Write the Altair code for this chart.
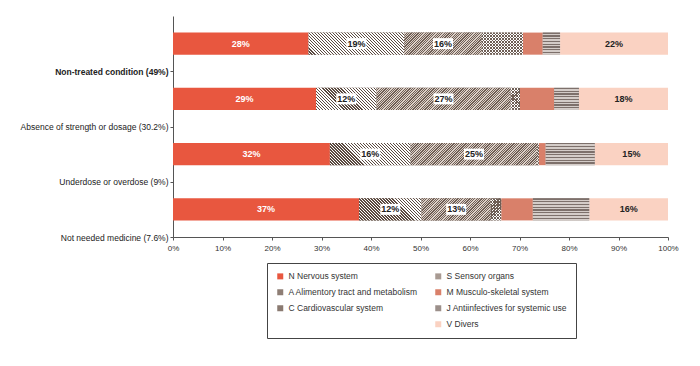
import altair as alt
import pandas as pd

rows = [
    "Non-treated condition (49%)",
    "Absence of strength or dosage (30.2%)",
    "Underdose or overdose (9%)",
    "Not needed medicine (7.6%)",
]
categories = [
    "N Nervous system",
    "A Alimentory tract and metabolism",
    "C Cardiovascular system",
    "S Sensory organs",
    "M Musculo-skeletal system",
    "J Antiinfectives for systemic use",
    "V Divers",
]
codes = ["N", "A", "C", "S", "M", "J", "V"]

n_vals = [27.4, 28.9, 31.7, 37.6]
a_vals = [19.3, 12.2, 16.3, 12.6]
c_vals = [15.7, 27.1, 25.6, 14.0]
s_vals = [8.3, 1.9, 0.3, 2.1]
m_vals = [4.0, 6.9, 1.4, 6.4]
j_vals = [3.5, 5.0, 9.9, 11.4]
v_vals = [21.8, 18.0, 14.8, 15.9]

n_labels = ["28%", "29%", "32%", "37%"]
a_labels = ["19%", "12%", "16%", "12%"]
c_labels = ["16%", "27%", "25%", "13%"]
v_labels = ["22%", "18%", "15%", "16%"]

series = [n_vals, a_vals, c_vals, s_vals, m_vals, j_vals, v_vals]
series_labels = [n_labels, a_labels, c_labels, None, None, None, v_labels]

records = []
for ci, (cat, vals) in enumerate(zip(categories, series)):
    for ri, r in enumerate(rows):
        lab = series_labels[ci][ri] if series_labels[ci] else ""
        records.append({"row": r, "cat": cat, "code": codes[ci], "order": ci,
                        "value": vals[ri], "label": lab})
df = pd.DataFrame(records)

FONT = "Liberation Sans"
PLOT_W = 495
PLOT_H = 221
STEP = PLOT_H / 4
BAR_H = 0.4 * STEP

# legend (solid approximations of the patterns); blank entry keeps V in the right column
legend_domain = [categories[0], categories[1], categories[2], " ",
                 categories[3], categories[4], categories[5], categories[6]]
legend_range = ["#e8573f", "#8e7e75", "#8a7a71", "#ffffff",
                "#a89a92", "#d9806a", "#9b8f8a", "#fad2c2"]

xscale = alt.Scale(domain=[0, 100], nice=False, zero=True)
yscale = alt.Scale(paddingInner=0.6, paddingOuter=0.3)
xaxis = alt.Axis(title=None, values=list(range(0, 101, 10)), labelExpr="datum.value + '%'",
                 grid=False, domainColor="#555", tickColor="#555", tickSize=3,
                 labelFontSize=8, labelColor="#333", labelPadding=4, labelFont=FONT,
                 labelFlush=False)
yaxis = alt.Axis(title=None, tickOffset=STEP / 2, domainColor="#555", tickColor="#555",
                 tickSize=3, labelFontSize=8.5, labelColor="#222", labelPadding=2,
                 labelLimit=400, labelFont=FONT,
                 labelFontWeight={"condition": {"test": "datum.value == '" + rows[0] + "'",
                                                "value": "bold"},
                                  "value": "normal"})


def X():
    return alt.X("x0:Q", scale=xscale, axis=xaxis)


def Y():
    return alt.Y("row:N", sort=rows, scale=yscale, axis=yaxis)


def stacked():
    return alt.Chart(df).transform_window(
        x1="sum(value)", groupby=["row"], sort=[alt.SortField("order", "ascending")],
        frame=[None, 0]).transform_calculate(x0="datum.x1 - datum.value")


def stripe_stops(n, dark, light, frac):
    stops = []
    for k in range(n):
        a = k / n
        b = (k + frac) / n
        c = (k + 1) / n
        stops += [{"offset": round(a, 5), "color": dark}, {"offset": round(b, 5), "color": dark},
                  {"offset": round(b, 5), "color": light}, {"offset": round(min(c, 1), 5), "color": light}]
    return stops


def diag(w, h, sx, dark, light, frac, direction):
    n = max(1, int(round((w + h) / sx)))
    k = (w + h) / (w * w + h * h)
    if direction == "back":
        x1, y1, x2, y2 = 0, 1, k * w, 1 - k * h
    else:
        x1, y1, x2, y2 = 0, 0, k * w, k * h
    return {"gradient": "linear", "x1": x1, "y1": y1, "x2": x2, "y2": y2,
            "stops": stripe_stops(n, dark, light, frac)}


base = stacked().mark_bar().encode(
    x=X(), x2="x1:Q", y=Y(),
    color=alt.Color("cat:N", scale=alt.Scale(domain=legend_domain, range=legend_range),
                    legend=alt.Legend(title=None, orient="none", legendX=94, legendY=247,
                                      columns=2, symbolType="square", symbolSize=36,
                                      symbolStrokeWidth=0, labelFontSize=8.5, labelFont=FONT,
                                      labelColor="#333", labelLimit=300, padding=9,
                                      rowPadding=7, columnPadding=16,
                                      strokeColor="#444")),
)

layers = [base]

pattern_specs = {
    "A": [dict(sx=3.0, dark="#5b4a40", light="#ffffff", frac=0.45, direction="back")],
    "C": [dict(sx=2.4, dark="#6e5e55", light="#dcd0c8", frac=0.5, direction="fwd")],
    "S": [dict(sx=3.0, dark="#6e5e55", light="#ffffff", frac=0.4, direction="back"),
          dict(sx=3.0, dark="#6e5e55", light="rgba(255,255,255,0)", frac=0.4, direction="fwd")],
}

for code, specs in pattern_specs.items():
    ci = codes.index(code)
    for ri, r in enumerate(rows):
        w = series[ci][ri] / 100.0 * PLOT_W
        for sp in specs:
            grad = diag(w, BAR_H, **sp)
            layers.append(
                stacked().transform_filter(
                    (alt.datum.code == code) & (alt.datum.row == r)
                ).mark_bar(fill=grad).encode(x=X(), x2="x1:Q", y=Y())
            )

# horizontal stripes for J (same bar height in every row)
j_grad = {"gradient": "linear", "x1": 0, "y1": 0, "x2": 0, "y2": 1,
          "stops": stripe_stops(8, "#7d706b", "#d4ccc8", 0.45)}
layers.append(
    stacked().transform_filter(alt.datum.code == "J").mark_bar(fill=j_grad).encode(
        x=X(), x2="x1:Q", y=Y())
)

lab_base = stacked().transform_filter(alt.datum.label != "").transform_calculate(
    xm="(datum.x0 + datum.x1) / 2")

boxes = lab_base.transform_filter(
    (alt.datum.code == "A") | (alt.datum.code == "C")
).mark_point(shape="M-1,-0.55H1V0.55H-1Z", size=400, filled=True, fill="white",
             opacity=1, strokeWidth=0).encode(
    x=alt.X("xm:Q", scale=xscale, axis=xaxis), y=Y())
layers.append(boxes)

texts = lab_base.mark_text(font=FONT, fontSize=9, fontWeight="bold").encode(
    x=alt.X("xm:Q", scale=xscale, axis=xaxis), y=Y(), text="label:N",
    color=alt.condition(alt.datum.code == "N", alt.value("white"), alt.value("#222")))
layers.append(texts)

chart = alt.layer(*layers).properties(
    width=PLOT_W, height=PLOT_H,
    padding={"left": 12, "top": 8, "right": 10, "bottom": 5},
).configure_view(stroke=None)

chart.save("out.html", embed_options={"renderer": "svg", "actions": False})
